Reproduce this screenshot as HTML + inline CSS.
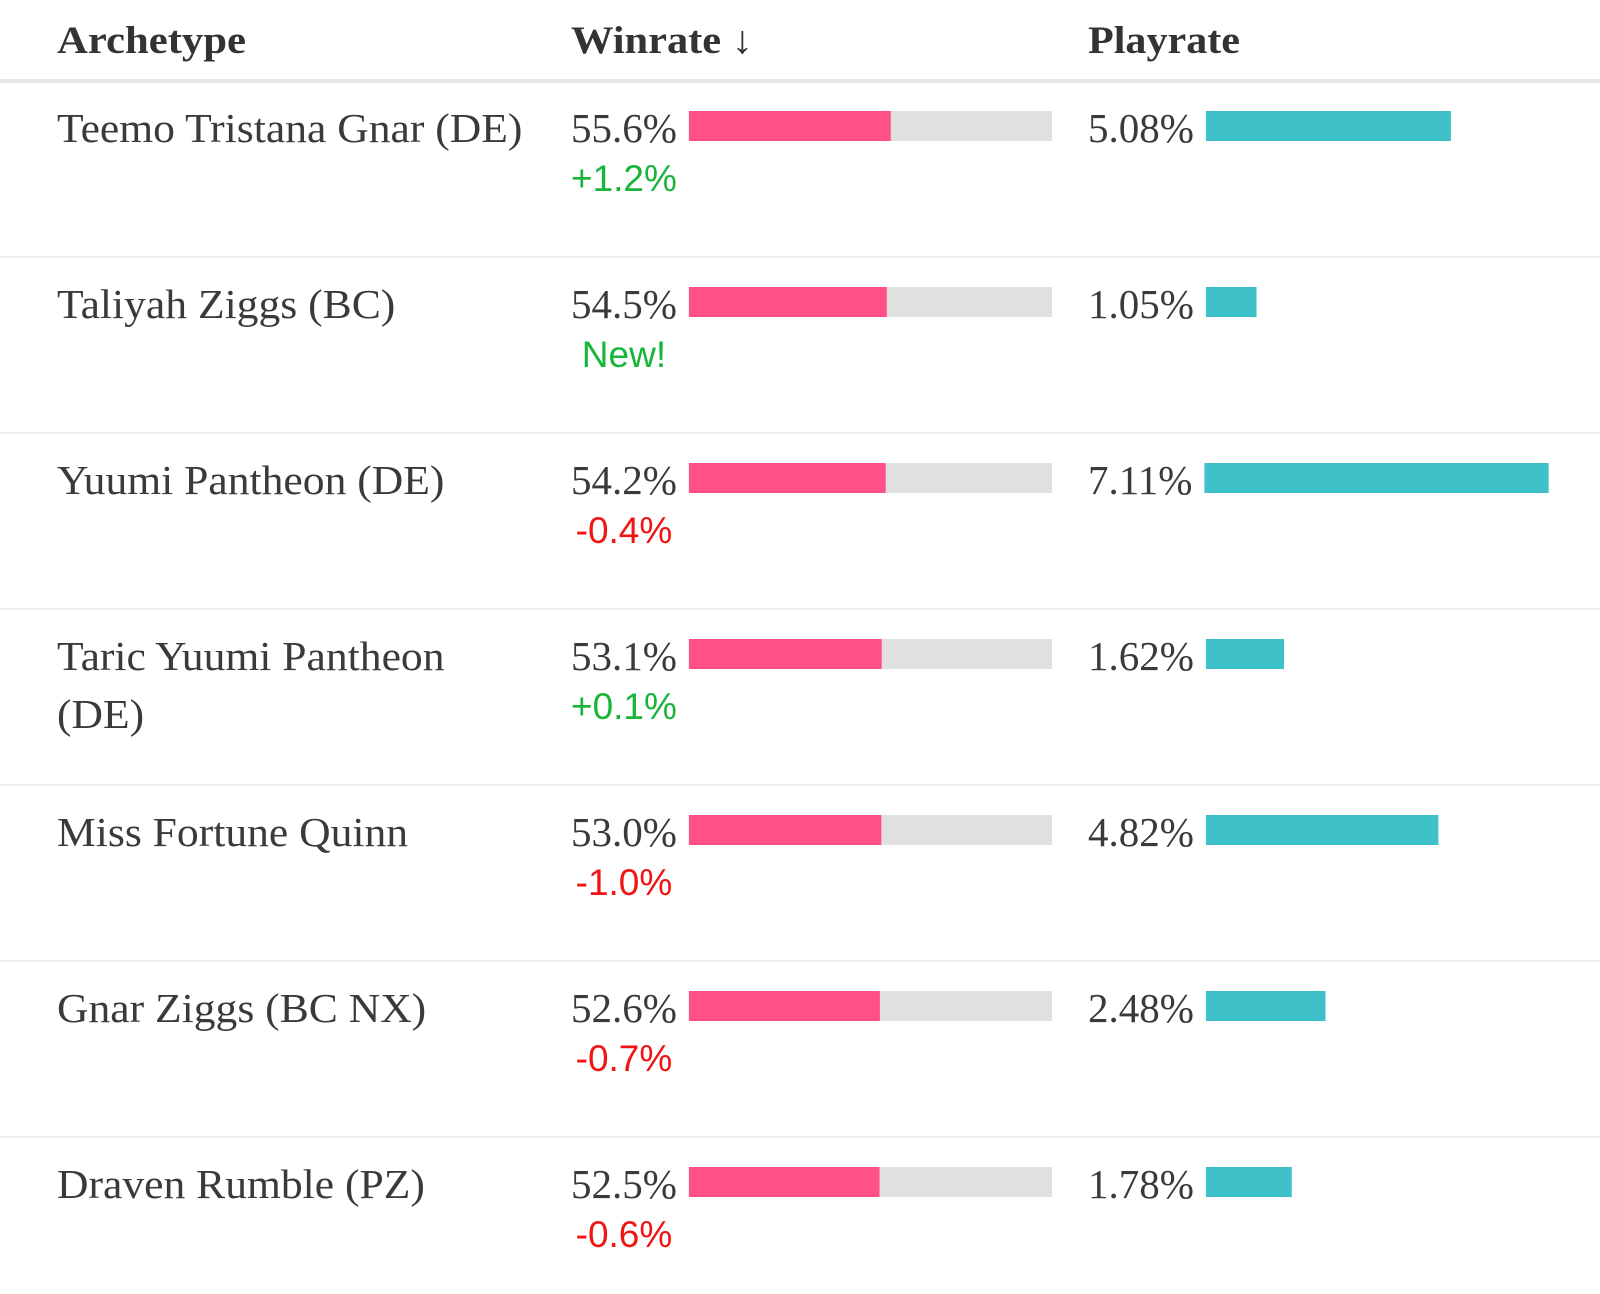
<!DOCTYPE html>
<html><head><meta charset="utf-8"><style>
html,body{margin:0;padding:0;background:#fff;width:1600px;height:1294px;overflow:hidden}
svg{display:block}
.hd{font-family:"Liberation Serif",serif;font-weight:bold;font-size:39px;fill:#333}
.nm,.val{font-family:"Liberation Serif",serif;font-size:41px;fill:#3a3a3a}
.dl{font-family:"Liberation Sans",sans-serif;font-size:37px}
</style></head><body>
<svg id="chart" width="1600" height="1294" xmlns="http://www.w3.org/2000/svg">
  <text class="hd" x="57" y="53" textLength="189" lengthAdjust="spacingAndGlyphs">Archetype</text>
  <text class="hd" x="571" y="53" textLength="182" lengthAdjust="spacingAndGlyphs">Winrate ↓</text>
  <text class="hd" x="1088" y="53" textLength="152" lengthAdjust="spacingAndGlyphs">Playrate</text>
  <rect x="0" y="79" width="1600" height="4" fill="#e6e6e6"/>
</svg>
<script>
const names = [["Teemo Tristana Gnar (DE)"],["Taliyah Ziggs (BC)"],["Yuumi Pantheon (DE)"],["Taric Yuumi Pantheon","(DE)"],["Miss Fortune Quinn"],["Gnar Ziggs (BC NX)"],["Draven Rumble (PZ)"]];
const winrates = [55.6,54.5,54.2,53.1,53.0,52.6,52.5];
const deltas = ["+1.2%","New!","-0.4%","+0.1%","-1.0%","-0.7%","-0.6%"];
const playrates = [5.08,1.05,7.11,1.62,4.82,2.48,1.78];
const playMax = 8.17;

const svg = document.getElementById('chart');
const NS = 'http://www.w3.org/2000/svg';
function mk(tag, attrs){const e=document.createElementNS(NS,tag);for(const k in attrs)e.setAttribute(k,attrs[k]);svg.appendChild(e);return e;}
const rowH = 176, row0 = 81;
const wrEnd = 1052;
for (let i=0;i<names.length;i++){
  const top = row0 + i*rowH;
  if (i>0){
    const sep = mk('rect',{x:0,y:top-1,width:1600,height:2,fill:'#efefef'});
    
    
  }
  const base = top + 61;
  names[i].forEach((ln,j)=>{
    const t = mk('text',{class:'nm',x:57,y:base+j*58});
    t.textContent = ln;
    
    
    const w = t.getComputedTextLength();
    t.setAttribute('textLength', (w*1.063).toFixed(1));
    t.setAttribute('lengthAdjust','spacingAndGlyphs');
  });
  const v = mk('text',{class:'val',x:571,y:base});
  v.textContent = winrates[i].toFixed(1)+'%';
  
  
  const vw = v.getComputedTextLength();
  const bs = 571 + vw + 12;
  const track = mk('rect',{x:bs,y:top+30,width:wrEnd-bs,height:30,fill:'#e0e0e0'});
  
  
  const fill = mk('rect',{x:bs,y:top+30,width:(wrEnd-bs)*winrates[i]/100,height:30,fill:'#ff5185'});
  
  
  const d = deltas[i];
  const col = d.startsWith('-') ? '#f01414' : '#19b53a';
  const dt = mk('text',{class:'dl',x:571+vw/2,y:base+49,'text-anchor':'middle',fill:col});
  dt.textContent = d;
  
  
  const p = mk('text',{class:'val',x:1088,y:base});
  p.textContent = playrates[i].toFixed(2)+'%';
  
  
  const ps = 1088 + p.getComputedTextLength() + 12;
  const pb = mk('rect',{x:ps,y:top+30,width:(1600-ps)*playrates[i]/playMax,height:30,fill:'#3ec1c9'});
  
  
}
</script>
</body></html>
